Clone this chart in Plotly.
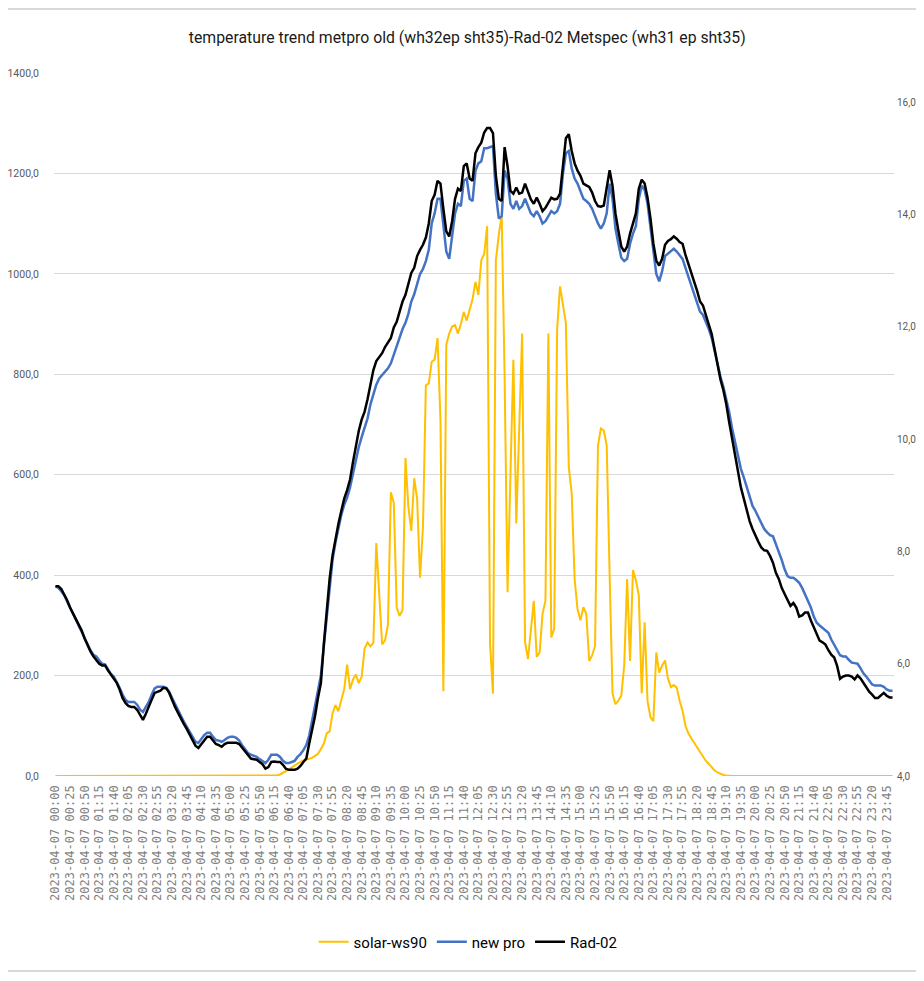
import plotly.graph_objects as go

# x categories: one reading every 5 minutes on 2023-04-07
times = ["2023-04-07 %02d:%02d" % (h, m) for h in range(24) for m in range(0, 60, 5)]
tick_labels = times[::5]

# solar-ws90 (left axis)
solar_ws90 = [
    0, 0, 0, 0, 0, 0, 0, 0, 0, 0,
    0, 0, 0, 0, 0, 0, 0, 0, 0, 0,
    0, 0, 0, 0, 0, 0, 0, 0, 0, 0,
    0, 0, 0, 0, 0, 0, 0, 0, 0, 0,
    0, 0, 0, 0, 0, 0, 0, 0, 0, 0,
    0, 0, 0, 0, 0, 0, 0, 0, 0, 0,
    0, 0, 0, 0, 0, 0, 0, 0, 0, 0,
    0, 0, 0, 0, 0, 0, 1, 3, 6, 9,
    13, 17, 21, 25, 28, 31, 33, 35, 36, 40,
    44, 54, 64, 85, 89, 125, 141, 129, 149, 173,
    222, 173, 192, 202, 185, 198, 254, 266, 258, 265,
    464, 363, 262, 270, 302, 565, 544, 335, 319, 330,
    633, 536, 488, 593, 552, 395, 496, 778, 782, 825,
    829, 872, 709, 169, 859, 881, 895, 898, 881, 900,
    924, 907, 930, 950, 984, 958, 1027, 1040, 1095, 263,
    164, 1027, 1078, 1117, 795, 366, 600, 829, 503, 690,
    881, 267, 233, 290, 349, 237, 246, 323, 349, 881,
    276, 293, 889, 975, 940, 902, 615, 563, 392, 332,
    310, 336, 323, 229, 240, 259, 658, 692, 688, 658,
    400, 164, 143, 150, 160, 220, 392, 229, 410, 390,
    360, 165, 306, 149, 117, 109, 246, 206, 220, 230,
    194, 177, 181, 176, 150, 130, 100, 85, 75, 66,
    56, 48, 38, 30, 24, 17, 11, 7, 4, 2,
    1, 0, 0, 0, 0, 0, 0, 0, 0, 0,
    0, 0, 0, 0, 0, 0, 0, 0, 0, 0,
    0, 0, 0, 0, 0, 0, 0, 0, 0, 0,
    0, 0, 0, 0, 0, 0, 0, 0, 0, 0,
    0, 0, 0, 0, 0, 0, 0, 0, 0, 0,
    0, 0, 0, 0, 0, 0, 0, 0,
]

# new pro (right axis)
new_pro = [
    7.38, 7.35, 7.29, 7.22, 7.11, 7.00, 6.89, 6.78, 6.68, 6.58,
    6.46, 6.34, 6.24, 6.16, 6.13, 6.06, 6.00, 5.99, 5.90, 5.82,
    5.77, 5.68, 5.57, 5.45, 5.36, 5.32, 5.32, 5.32, 5.27, 5.18,
    5.14, 5.22, 5.32, 5.45, 5.56, 5.59, 5.59, 5.59, 5.57, 5.50,
    5.39, 5.28, 5.16, 5.06, 4.97, 4.88, 4.79, 4.68, 4.61, 4.59,
    4.66, 4.73, 4.77, 4.77, 4.70, 4.64, 4.63, 4.61, 4.64, 4.68,
    4.70, 4.70, 4.68, 4.63, 4.55, 4.48, 4.41, 4.38, 4.36, 4.34,
    4.30, 4.27, 4.23, 4.29, 4.38, 4.38, 4.38, 4.34, 4.27, 4.23,
    4.23, 4.25, 4.27, 4.34, 4.39, 4.46, 4.55, 4.72, 4.97, 5.25,
    5.52, 5.79, 6.34, 6.86, 7.40, 7.85, 8.16, 8.43, 8.65, 8.83,
    8.96, 9.14, 9.38, 9.63, 9.86, 10.04, 10.19, 10.37, 10.62, 10.81,
    10.97, 11.08, 11.14, 11.20, 11.26, 11.35, 11.51, 11.65, 11.80, 11.96,
    12.07, 12.23, 12.45, 12.58, 12.76, 12.94, 13.03, 13.17, 13.37, 13.84,
    14.02, 14.28, 14.28, 13.79, 13.34, 13.21, 13.57, 14.02, 14.19, 14.15,
    14.60, 14.64, 14.28, 14.24, 14.78, 14.91, 14.95, 15.18, 15.18, 15.20,
    15.22, 14.37, 13.93, 13.97, 14.78, 14.64, 14.19, 14.10, 14.24, 14.10,
    14.15, 14.28, 14.15, 14.02, 13.97, 14.06, 13.97, 13.84, 13.88, 13.97,
    14.06, 14.02, 14.06, 14.19, 14.73, 15.09, 15.13, 14.82, 14.64, 14.55,
    14.42, 14.28, 14.24, 14.19, 14.10, 13.97, 13.84, 13.75, 13.84, 14.02,
    14.55, 14.28, 13.75, 13.48, 13.23, 13.17, 13.21, 13.48, 13.66, 13.79,
    14.28, 14.51, 14.44, 14.19, 13.75, 13.30, 12.94, 12.81, 12.99, 13.26,
    13.30, 13.34, 13.39, 13.34, 13.28, 13.21, 13.05, 12.90, 12.75, 12.57,
    12.41, 12.27, 12.21, 12.09, 11.96, 11.80, 11.58, 11.31, 11.11, 10.93,
    10.72, 10.48, 10.19, 9.95, 9.72, 9.47, 9.32, 9.14, 8.96, 8.81,
    8.72, 8.61, 8.49, 8.40, 8.34, 8.29, 8.27, 8.13, 8.01, 7.85,
    7.68, 7.56, 7.53, 7.53, 7.49, 7.44, 7.35, 7.24, 7.11, 7.00,
    6.84, 6.73, 6.68, 6.64, 6.59, 6.55, 6.43, 6.34, 6.24, 6.15,
    6.13, 6.13, 6.07, 6.02, 6.01, 6.00, 5.92, 5.83, 5.77, 5.70,
    5.63, 5.61, 5.61, 5.61, 5.59, 5.54, 5.52, 5.52,
]

# Rad-02 (right axis)
rad_02 = [
    7.38, 7.38, 7.33, 7.24, 7.13, 7.00, 6.90, 6.79, 6.70, 6.59,
    6.45, 6.32, 6.22, 6.13, 6.07, 6.00, 5.97, 5.97, 5.88, 5.81,
    5.75, 5.66, 5.54, 5.39, 5.30, 5.25, 5.23, 5.23, 5.18, 5.09,
    5.00, 5.11, 5.22, 5.36, 5.48, 5.50, 5.52, 5.57, 5.56, 5.48,
    5.34, 5.23, 5.13, 5.02, 4.93, 4.84, 4.73, 4.63, 4.54, 4.50,
    4.57, 4.64, 4.70, 4.70, 4.63, 4.57, 4.55, 4.52, 4.57, 4.59,
    4.59, 4.59, 4.59, 4.57, 4.50, 4.43, 4.36, 4.31, 4.30, 4.29,
    4.25, 4.21, 4.13, 4.16, 4.25, 4.26, 4.25, 4.25, 4.20, 4.13,
    4.11, 4.11, 4.11, 4.13, 4.18, 4.25, 4.31, 4.58, 4.82, 5.07,
    5.39, 5.65, 6.34, 6.92, 7.51, 7.93, 8.24, 8.49, 8.72, 8.94,
    9.09, 9.28, 9.59, 9.90, 10.15, 10.35, 10.49, 10.71, 10.99, 11.23,
    11.39, 11.46, 11.53, 11.64, 11.71, 11.80, 11.99, 12.09, 12.27, 12.45,
    12.57, 12.76, 12.96, 13.05, 13.26, 13.37, 13.46, 13.59, 13.84, 14.24,
    14.35, 14.60, 14.55, 14.10, 13.70, 13.61, 13.88, 14.28, 14.46, 14.42,
    14.86, 14.91, 14.64, 14.60, 15.09, 15.20, 15.28, 15.46, 15.54, 15.54,
    15.45, 14.69, 14.28, 14.24, 15.20, 14.86, 14.42, 14.37, 14.48, 14.37,
    14.39, 14.55, 14.42, 14.27, 14.19, 14.30, 14.19, 14.06, 14.12, 14.22,
    14.30, 14.27, 14.28, 14.37, 14.86, 15.36, 15.43, 15.13, 14.91, 14.78,
    14.69, 14.55, 14.52, 14.49, 14.39, 14.24, 14.15, 14.14, 14.16, 14.46,
    14.79, 14.51, 14.02, 13.71, 13.43, 13.34, 13.43, 13.66, 13.84, 14.02,
    14.46, 14.62, 14.55, 14.30, 13.93, 13.48, 13.18, 13.09, 13.21, 13.46,
    13.53, 13.56, 13.61, 13.57, 13.51, 13.48, 13.28, 13.12, 12.98, 12.83,
    12.64, 12.45, 12.38, 12.21, 12.03, 11.87, 11.60, 11.30, 11.06, 10.87,
    10.62, 10.30, 10.01, 9.72, 9.47, 9.14, 8.94, 8.74, 8.54, 8.40,
    8.27, 8.17, 8.07, 8.02, 8.01, 7.92, 7.80, 7.62, 7.51, 7.35,
    7.24, 7.13, 7.03, 7.08, 7.00, 6.84, 6.86, 6.91, 6.91, 6.77,
    6.64, 6.53, 6.41, 6.38, 6.34, 6.24, 6.16, 6.11, 5.96, 5.73,
    5.77, 5.79, 5.79, 5.77, 5.72, 5.79, 5.74, 5.66, 5.58, 5.50,
    5.45, 5.39, 5.39, 5.43, 5.48, 5.43, 5.40, 5.40,
]

left_ticks = [0, 200, 400, 600, 800, 1000, 1200, 1400]
right_ticks = [4, 6, 8, 10, 12, 14, 16]

TITLE = "temperature trend metpro old (wh32ep sht35)-Rad-02 Metspec (wh31 ep sht35)"
FONT = "Roboto, Liberation Sans, sans-serif"

# the page body adds an 8px offset; size the figure so no scrollbars appear
W, H = 908, 965
L, R, T, B = 46, 22, 65, 197
PLOT_H = H - T - B


def paper_y(fig_px):
    return (H - B - fig_px) / PLOT_H


fig = go.Figure()
fig.add_trace(go.Scatter(x=times, y=solar_ws90, name="solar-ws90", mode="lines",
                         line=dict(color="#FFC000", width=2), yaxis="y"))
fig.add_trace(go.Scatter(x=times, y=new_pro, name="new pro", mode="lines",
                         line=dict(color="#4472C4", width=2.5), yaxis="y2"))
fig.add_trace(go.Scatter(x=times, y=rad_02, name="Rad-02", mode="lines",
                         line=dict(color="#000000", width=2.5), yaxis="y2"))

fig.update_layout(
    width=W, height=H,
    margin=dict(l=L, r=R, t=T, b=B, autoexpand=False),
    paper_bgcolor="white", plot_bgcolor="white",
    separators=",.",
    title=dict(text=TITLE, x=0.492, xref="paper", xanchor="center",
               y=1 - 29 / H, yref="container", yanchor="middle",
               font=dict(family=FONT, size=15.8, color="#1a1a1a")),
    xaxis=dict(type="category", range=[-0.5, len(times) - 0.5], automargin=False,
               tickmode="array", tickvals=tick_labels, ticktext=tick_labels,
               tickangle=-90, showgrid=False, showline=False, zeroline=False,
               ticks="", ticklabelstandoff=6,
               tickfont=dict(family="DejaVu Sans Mono", size=12, color="#7F7F7F")),
    yaxis=dict(range=[0, 1400], tickmode="array", tickvals=left_ticks, automargin=False,
               tickformat=".1f", showgrid=True, gridcolor="#D9D9D9", gridwidth=1,
               zeroline=False, showline=False, ticks="", ticklabelstandoff=14,
               tickfont=dict(family=FONT, size=10.5, color="#595959")),
    yaxis2=dict(range=[4, 16.52], overlaying="y", side="right", tickmode="array",
                automargin=False,
                tickvals=right_ticks, tickformat=".1f", showgrid=False,
                zeroline=False, showline=False, ticks="", ticklabelstandoff=2,
                tickfont=dict(family=FONT, size=10, color="#595959")),
    legend=dict(orientation="h", x=0.493, xanchor="center", y=paper_y(934),
                yanchor="middle", itemwidth=30, bgcolor="rgba(0,0,0,0)",
                font=dict(family=FONT, size=15, color="#000000")),
    showlegend=True,
    shapes=[
        dict(type="line", xref="paper", yref="paper", x0=-0.07, x1=1.05,
             y0=paper_y(1), y1=paper_y(1),
             line=dict(color="#D9D9D9", width=2)),
        dict(type="line", xref="paper", yref="paper", x0=-0.07, x1=1.05,
             y0=paper_y(963), y1=paper_y(963),
             line=dict(color="#D9D9D9", width=2)),
    ],
)

fig.write_html("out.html")
